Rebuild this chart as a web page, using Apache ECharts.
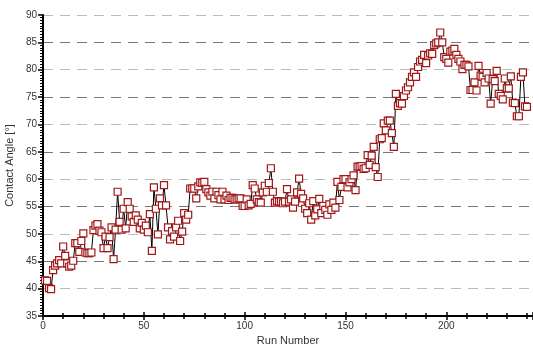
<!DOCTYPE html>
<html>
<head>
<meta charset="utf-8">
<script src="https://cdn.jsdelivr.net/npm/echarts@6/dist/echarts.min.js"></script>
<style>
  html, body { margin: 0; padding: 0; background: #fff; }
  #chart { width: 533px; height: 344px; }
</style>
</head>
<body>
<div id="chart"></div>
<script>
// contact angle per run (run 1 .. 240)
const angles = [
  41.5, 41.4, 40.1, 39.9, 43.4, 44.2, 44.6, 45.2, 44.6, 47.7,
  46.0, 44.6, 44.0, 44.2, 45.1, 48.3, 48.3, 46.7, 48.7, 50.1,
  46.6, 46.5, 46.5, 46.6, 50.7, 51.5, 51.8, 50.6, 50.3, 47.4,
  49.5, 47.4, 49.4, 51.2, 45.4, 50.8, 57.7, 52.2, 50.8, 54.6,
  51.0, 55.8, 54.6, 53.2, 52.2, 53.4, 52.6, 51.0, 52.0, 50.8,
  51.5, 50.3, 53.6, 46.9, 58.5, 54.6, 49.9, 56.5, 55.2, 58.9,
  55.2, 51.2, 49.0, 50.5, 49.5, 51.2, 52.4, 48.7, 50.4, 53.8,
  52.6, 53.5, 58.3, 58.3, 58.3, 56.5, 58.7, 59.4, 59.3, 59.5,
  58.2, 57.6, 57.0, 57.7, 56.5, 57.7, 57.1, 56.3, 57.7, 56.3,
  57.0, 56.2, 56.6, 56.6, 56.3, 56.3, 56.5, 56.5, 55.1, 55.1,
  56.3, 55.2, 55.5, 58.9, 58.3, 56.3, 55.8, 55.7, 57.6, 58.8,
  57.7, 59.3, 62.0, 57.7, 55.7, 56.0, 55.9, 55.9, 55.6, 55.9,
  58.2, 55.9, 56.3, 54.8, 55.9, 57.6, 60.1, 57.3, 56.5, 54.6,
  53.8, 55.6, 52.6, 56.0, 53.4, 54.5, 56.4, 53.8, 55.1, 54.4,
  53.5, 55.4, 54.4, 55.7, 54.8, 59.5, 56.2, 58.6, 60.0, 60.0,
  58.5, 59.4, 60.0, 60.7, 58.0, 62.3, 62.3, 62.4, 61.9, 62.0,
  64.4, 62.6, 64.3, 65.9, 62.2, 60.4, 67.3, 67.5, 70.2, 68.9,
  70.7, 70.7, 68.4, 65.9, 75.6, 73.4, 73.9, 73.8, 75.2, 76.2,
  76.8, 77.7, 78.7, 79.5, 78.7, 80.5, 81.5, 81.8, 82.7, 81.2,
  82.6, 83.0, 82.9, 84.5, 84.8, 85.0, 86.8, 85.0, 82.3, 82.0,
  81.3, 83.3, 83.5, 83.8, 82.7, 82.0, 81.5, 80.1, 80.9, 80.9,
  80.6, 76.3, 76.3, 77.7, 76.2, 80.7, 78.9, 78.7, 77.7, 79.4,
  78.4, 73.8, 78.3, 77.9, 79.8, 75.6, 75.2, 74.6, 78.4, 76.6,
  76.6, 78.8, 74.0, 73.9, 71.5, 71.5, 78.7, 79.5, 73.3, 73.2
];
const xTitle = "Run Number";
const yTitle = "Contact Angle [°]";

const points = angles.map((v, i) => [i + 1, v]);
const font = "Liberation Sans, Arial, sans-serif";

const chart = echarts.init(document.getElementById("chart"));
chart.setOption({
  animation: false,
  backgroundColor: "#fff",
  grid: { left: 43, right: 0, top: 15, bottom: 28, outerBoundsMode: "none", containLabel: false },
  xAxis: [
    {
      type: "value",
      min: 0, max: 243, interval: 50,
      name: xTitle, nameLocation: "middle", nameGap: 16,
      nameTextStyle: { fontFamily: font, fontSize: 11, color: "#333" },
      axisLine: { show: true, lineStyle: { color: "#000", width: 2 } },
      axisTick: { show: true, inside: false, length: 4, lineStyle: { color: "#000", width: 1.5 } },
      minorTick: { show: true, splitNumber: 5, length: 3, lineStyle: { color: "#000", width: 1.5 } },
      axisLabel: { fontFamily: font, fontSize: 10, color: "#333", margin: 5, showMaxLabel: false },
      splitLine: { show: false }
    },
    {
      type: "value",
      min: 0, max: 243, interval: 50,
      position: "bottom",
      axisLine: { show: false },
      axisTick: { show: true, inside: true, length: 4, lineStyle: { color: "#000", width: 1.5 } },
      minorTick: { show: true, splitNumber: 5, length: 3, lineStyle: { color: "#000", width: 1.5 } },
      axisLabel: { show: false },
      splitLine: { show: false }
    }
  ],
  yAxis: {
    type: "value",
    min: 35, max: 90, interval: 5,
    name: yTitle, nameLocation: "middle", nameGap: 27,
    nameTextStyle: { fontFamily: font, fontSize: 11, color: "#333" },
    axisLine: { show: true, lineStyle: { color: "#000", width: 2 } },
    axisTick: { show: true, inside: false, length: 5, lineStyle: { color: "#000", width: 1.5 } },
    minorTick: { show: true, splitNumber: 10, length: 3, lineStyle: { color: "#000", width: 1 } },
    axisLabel: { fontFamily: font, fontSize: 10, color: "#333", margin: 6 },
    splitLine: {
      show: true,
      lineStyle: { color: ["#777", "#bbb"], width: 1, type: [10, 7] }
    }
  },
  series: [
    {
      type: "line",
      data: points,
      xAxisIndex: 0,
      symbol: "rect",
      symbolSize: 7,
      showAllSymbol: true,
      lineStyle: { color: "#000", width: 1 },
      itemStyle: { color: "#fff", borderColor: "#a01818", borderWidth: 1.2 }
    }
  ]
});
</script>
</body>
</html>
